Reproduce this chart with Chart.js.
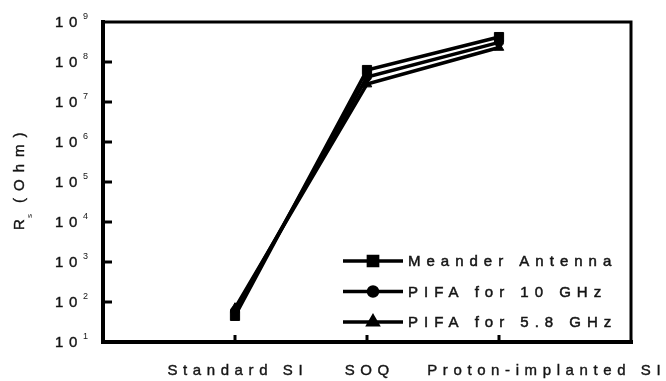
<!DOCTYPE html>
<html>
<head>
<meta charset="utf-8">
<script src="https://cdn.jsdelivr.net/npm/chart.js@4/dist/chart.umd.min.js"></script>
<style>
  html, body { margin: 0; padding: 0; background: #fff; }
  canvas { display: block; }
</style>
</head>
<body>
<canvas id="chart" width="666" height="381"></canvas>
<script>
// Substrate types along the x axis
const categories = ['Standard SI', 'SOQ', 'Proton-implanted SI'];

// Resistance Rs (Ohm) per antenna type, one value per substrate
const meanderAntenna = [45, 6.3e7, 4.2e8];
const pifa10GHz = [60, 4.2e7, 3.1e8];
const pifa58GHz = [70, 2.8e7, 2.3e8];

const seriesNames = ['Meander Antenna', 'PIFA for 10 GHz', 'PIFA for 5.8 GHz'];

// Decade exponents shown on the logarithmic y axis
const yTickExponents = [1, 2, 3, 4, 5, 6, 7, 8, 9];

// Axis title pieces: main letter, subscript, remainder
const yTitleParts = ['R', 's', '(Ohm)'];

const FONT = '"Liberation Sans", Arial, Helvetica, sans-serif';
const LABEL_FONT = '15px ' + FONT;
const INK = '#000';
const TEXT = '#151515';
const SPACING = 5.6;

function toPoints(values) {
  return values.map((v, i) => ({ x: i + 1, y: v }));
}

// Width of a letter-spaced string without the trailing gap
function spacedWidth(ctx, text, ls) {
  return ctx.measureText(text).width - ls;
}

// Filled text with a hairline outline so small glyphs read a little heavier
function heavyText(ctx, text, x, y) {
  ctx.fillText(text, x, y);
  ctx.strokeText(text, x, y);
}

const framePlugin = {
  id: 'frame',
  beforeDatasetsDraw(chart) {
    const { ctx, chartArea: a } = chart;
    const ys = chart.scales.y;
    const xs = chart.scales.x;
    ctx.save();
    ctx.strokeStyle = INK;
    ctx.lineCap = 'square';
    // Box round the plotting area
    ctx.lineWidth = 4;
    ctx.beginPath();
    ctx.moveTo(a.left, a.top); ctx.lineTo(a.left, a.bottom); ctx.lineTo(a.right, a.bottom);
    ctx.stroke();
    ctx.lineWidth = 3;
    ctx.beginPath();
    ctx.moveTo(a.left, a.top); ctx.lineTo(a.right, a.top); ctx.lineTo(a.right, a.bottom);
    ctx.stroke();
    // Inward tick marks
    ctx.lineCap = 'butt';
    ctx.lineWidth = 3;
    yTickExponents.forEach(e => {
      if (e === yTickExponents[0] || e === yTickExponents[yTickExponents.length - 1]) return;
      const y = ys.getPixelForValue(Math.pow(10, e));
      ctx.beginPath(); ctx.moveTo(a.left, y); ctx.lineTo(a.left + 9, y); ctx.stroke();
    });
    categories.forEach((c, i) => {
      const x = xs.getPixelForValue(i + 1);
      ctx.beginPath(); ctx.moveTo(x, a.bottom); ctx.lineTo(x, a.bottom - 7); ctx.stroke();
    });
    ctx.restore();
  },
  afterDraw(chart) {
    const { ctx } = chart;
    const ys = chart.scales.y;
    const xs = chart.scales.x;
    ctx.save();
    ctx.fillStyle = TEXT;
    ctx.strokeStyle = TEXT;
    ctx.lineWidth = 0.4;
    ctx.textAlign = 'left';

    // y tick labels: 10 with a raised exponent
    yTickExponents.forEach(e => {
      const y = ys.getPixelForValue(Math.pow(10, e));
      ctx.font = LABEL_FONT;
      ctx.textBaseline = 'middle';
      ctx.letterSpacing = SPACING + 'px';
      heavyText(ctx, '10', 55, y + 1);
      ctx.font = '9px ' + FONT;
      ctx.letterSpacing = '0px';
      ctx.fillText(String(e), 83, y - 5);
    });

    // x category labels, kept apart by a minimum gap
    ctx.font = LABEL_FONT;
    ctx.letterSpacing = SPACING + 'px';
    ctx.textBaseline = 'alphabetic';
    const minGap = 38;
    let prevEnd = -Infinity;
    categories.forEach((c, i) => {
      const w = spacedWidth(ctx, c, SPACING);
      let x0 = xs.getPixelForValue(i + 1) - w / 2;
      x0 = Math.max(x0, prevEnd + minGap);
      heavyText(ctx, c, x0, 375);
      prevEnd = x0 + w;
    });

    // Rotated y axis title with subscript, reading upwards
    ctx.save();
    ctx.translate(24, 230);
    ctx.rotate(-Math.PI / 2);
    ctx.textBaseline = 'alphabetic';
    ctx.font = LABEL_FONT;
    ctx.letterSpacing = '0px';
    heavyText(ctx, yTitleParts[0], 0, 0);
    ctx.font = '8px ' + FONT;
    ctx.fillText(yTitleParts[1], 12, 8);
    ctx.font = LABEL_FONT;
    ctx.letterSpacing = '7px';
    heavyText(ctx, yTitleParts[2], 27, 0);
    ctx.restore();

    // Legend inside the lower right of the plot
    const lx0 = 343, lx1 = 403, ly0 = 261, rowH = 30.5;
    chart.data.datasets.forEach((ds, i) => {
      const y = ly0 + i * rowH;
      ctx.strokeStyle = INK;
      ctx.lineWidth = 3.5;
      ctx.beginPath(); ctx.moveTo(lx0, y); ctx.lineTo(lx1, y); ctx.stroke();
      ctx.fillStyle = INK;
      Chart.helpers.drawPoint(ctx, {
        pointStyle: ds.pointStyle, radius: ds.pointRadius, rotation: 0, borderWidth: 1
      }, (lx0 + lx1) / 2, y);
      ctx.fillStyle = TEXT;
      ctx.strokeStyle = TEXT;
      ctx.lineWidth = 0.5;
      ctx.font = LABEL_FONT;
      ctx.letterSpacing = '6px';
      ctx.textBaseline = 'middle';
      heavyText(ctx, ds.label, 408, y + 1);
    });
    ctx.restore();
  }
};

function series(label, values, style, radius) {
  return {
    label,
    data: toPoints(values),
    borderColor: INK,
    backgroundColor: INK,
    borderWidth: 3.5,
    pointStyle: style,
    pointRadius: radius,
    pointBorderColor: INK,
    pointBackgroundColor: INK,
    pointBorderWidth: 1,
    tension: 0
  };
}

new Chart(document.getElementById('chart'), {
  type: 'line',
  data: {
    datasets: [
      series(seriesNames[0], meanderAntenna, 'rect', 6.5),
      series(seriesNames[1], pifa10GHz, 'circle', 4.5),
      series(seriesNames[2], pifa58GHz, 'triangle', 5.5)
    ]
  },
  options: {
    responsive: false,
    animation: false,
    devicePixelRatio: 1,
    layout: { padding: { left: 103, right: 35, top: 22, bottom: 39 } },
    scales: {
      x: { type: 'linear', min: 0, max: 4, display: false },
      y: { type: 'logarithmic', min: 10, max: 1e9, display: false }
    },
    plugins: { legend: { display: false }, tooltip: { enabled: false } },
    elements: { line: { clip: false } }
  },
  plugins: [framePlugin]
});
</script>
</body>
</html>
